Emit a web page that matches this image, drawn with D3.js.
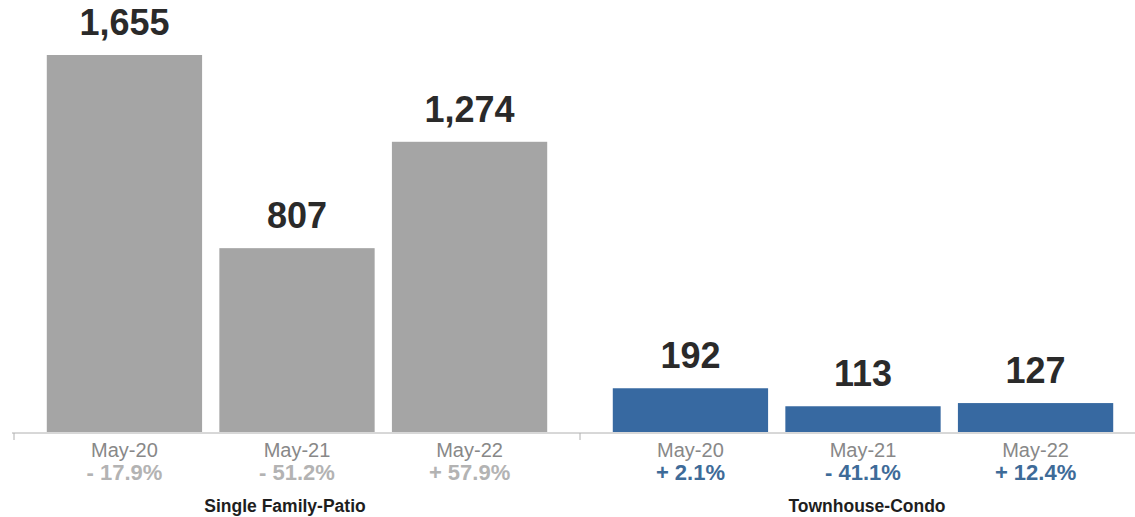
<!DOCTYPE html>
<html>
<head>
<meta charset="utf-8">
<script src="https://cdn.jsdelivr.net/npm/d3@7"></script>
<style>
  html, body { margin: 0; padding: 0; background: #fff; }
  svg { display: block; font-family: "Liberation Sans", Arial, Helvetica, sans-serif; }
</style>
</head>
<body>
<svg id="chart" width="1135" height="517"></svg>
<script>
// ---- data ----
const groups = ["Single Family-Patio", "Townhouse-Condo"];
const months = ["May-20", "May-21", "May-22"];
const singleFamilyValues = [1655, 807, 1274];
const townhouseValues = [192, 113, 127];
const singleFamilyChange = ["- 17.9%", "- 51.2%", "+ 57.9%"];
const townhouseChange = ["+ 2.1%", "- 41.1%", "+ 12.4%"];

const seriesValues = [singleFamilyValues, townhouseValues];
const seriesChange = [singleFamilyChange, townhouseChange];
const barColors = ["#a5a5a5", "#3769a1"];
const changeColors = ["#b3b3b3", "#3e6b98"];
const groupLabelShift = [-12, 4];

const svg = d3.select("#chart");
const W = 1135, H = 517;
const baseY = 432;

const x0 = d3.scaleBand().domain(groups).range([14, 1146]).padding(0);
const x1 = d3.scaleBand().domain(months).range([0, x0.bandwidth()])
  .paddingInner(0.1).paddingOuter(0.19);
const y = d3.scaleLinear().domain([0, d3.max(singleFamilyValues)]).range([baseY, 55]);

const rows = [];
groups.forEach((g, gi) => {
  months.forEach((m, mi) => {
    rows.push({ group: g, gi, month: m, value: seriesValues[gi][mi], change: seriesChange[gi][mi] });
  });
});
const cx = d => x0(d.group) + x1(d.month) + x1.bandwidth() / 2;

// bars
svg.append("g").selectAll("rect").data(rows).join("rect")
  .attr("x", d => x0(d.group) + x1(d.month))
  .attr("width", x1.bandwidth())
  .attr("y", d => y(d.value))
  .attr("height", d => y(0) - y(d.value))
  .attr("fill", d => barColors[d.gi]);

// value labels
svg.append("g").selectAll("text").data(rows).join("text")
  .attr("x", cx)
  .attr("y", d => y(d.value) - 20)
  .attr("text-anchor", "middle")
  .attr("font-size", 36)
  .attr("font-weight", "bold")
  .attr("fill", "#2a2a2a")
  .text(d => d3.format(",")(d.value));

// axis
const axis = d3.axisBottom(x0).tickSize(7).tickFormat("");
const ag = svg.append("g").attr("transform", `translate(0,${baseY + 1})`).call(axis);
ag.select(".domain").attr("stroke", "#b0b0b0").attr("d", `M12,0H${W}`);
ag.selectAll(".tick line").attr("stroke", "#b0b0b0")
  .attr("transform", "translate(" + (-x0.bandwidth() / 2) + ",0)");

// month labels
svg.append("g").selectAll("text").data(rows).join("text")
  .attr("x", cx)
  .attr("y", 457)
  .attr("text-anchor", "middle")
  .attr("font-size", 20)
  .attr("fill", "#888888")
  .text(d => d.month);

// change labels
svg.append("g").selectAll("text").data(rows).join("text")
  .attr("x", cx)
  .attr("y", 480)
  .attr("text-anchor", "middle")
  .attr("font-size", 22)
  .attr("font-weight", "bold")
  .attr("fill", d => changeColors[d.gi])
  .text(d => d.change);

// group labels
svg.append("g").selectAll("text").data(groups).join("text")
  .attr("x", (g, i) => x0(g) + x0.bandwidth() / 2 + groupLabelShift[i])
  .attr("y", 512)
  .attr("text-anchor", "middle")
  .attr("font-size", 17.5)
  .attr("font-weight", "bold")
  .attr("fill", "#1e1e1e")
  .text(g => g);
</script>
</body>
</html>
